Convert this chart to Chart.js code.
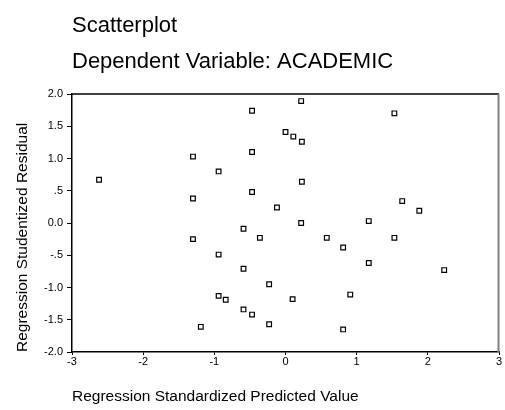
<!DOCTYPE html>
<html>
<head>
<meta charset="utf-8">
<script src="https://cdn.jsdelivr.net/npm/chart.js@4.4.1/dist/chart.umd.min.js"></script>
<style>
  html, body { margin: 0; padding: 0; background: #fff; }
</style>
</head>
<body>
<canvas id="chart" width="505" height="410"></canvas>
<script>
// Chart text
const titleLines = ["Scatterplot", "Dependent Variable: ACADEMIC"];
const xTitle = "Regression Standardized Predicted Value";
const yTitle = "Regression Studentized Residual";

// Tick labels (SPSS style)
const xTickLabels = ["-3", "-2", "-1", "0", "1", "2", "3"];
const yTickLabels = ["-2.0", "-1.5", "-1.0", "-.5", "0.0", ".5", "1.0", "1.5", "2.0"];

// Cases: standardized predicted value / studentized residual
const predicted = [-2.62, -1.30, -1.30, -1.30, -0.94, -0.94, -0.94, -0.84, -1.19, -0.47,
  -0.47, -0.47, -0.59, -0.59, -0.36, -0.59, -0.47, -0.23, -0.23, -0.12,
  0.00, 0.11, 0.22, 0.23, 0.23, 0.22, 0.10, 0.58, 0.81, 0.81,
  0.91, 1.17, 1.17, 1.53, 1.53, 1.64, 1.88, 2.23];
const residual = [0.67, 1.03, 0.38, -0.25, 0.80, -0.49, -1.13, -1.19, -1.61, 1.74,
  1.10, 0.48, -0.09, -0.71, -0.23, -1.34, -1.42, -0.95, -1.57, 0.24,
  1.41, 1.34, 1.89, 1.26, 0.64, 0.00, -1.18, -0.23, -0.38, -1.65,
  -1.11, 0.03, -0.62, 1.70, -0.23, 0.34, 0.19, -0.73];

const FONT = "'Liberation Sans', Arial, Helvetica, sans-serif";

// Titles above the plot + top/right frame lines
const framePlugin = {
  id: "frame",
  afterDraw(chart) {
    const { ctx, chartArea: a } = chart;
    ctx.save();
    ctx.fillStyle = "#000";
    ctx.font = "22px " + FONT;
    ctx.textBaseline = "alphabetic";
    ctx.fillText(titleLines[0], a.left, 32);
    ctx.fillText(titleLines[1], a.left, 68);

    ctx.strokeStyle = "#000";
    ctx.lineWidth = 1.5;
    ctx.beginPath();
    ctx.moveTo(a.left, a.top);
    ctx.lineTo(a.right, a.top);
    ctx.stroke();
    ctx.strokeStyle = "#808080";
    ctx.lineWidth = 2;
    ctx.beginPath();
    ctx.moveTo(a.right - 0.5, a.top);
    ctx.lineTo(a.right - 0.5, a.bottom);
    ctx.stroke();
    ctx.restore();
  }
};

new Chart(document.getElementById("chart"), {
  type: "scatter",
  data: {
    datasets: [{
      data: predicted.map((x, i) => ({ x: x, y: residual[i] })),
      pointStyle: "rect",
      pointRadius: 3.3,
      pointHoverRadius: 3.3,
      backgroundColor: "#fff",
      borderColor: "#000",
      borderWidth: 1.2
    }]
  },
  options: {
    responsive: false,
    animation: false,
    events: [],
    layout: { padding: { top: 94, right: 6, left: 0, bottom: 0 } },
    plugins: {
      legend: { display: false },
      tooltip: { enabled: false }
    },
    scales: {
      x: {
        type: "linear",
        min: -3,
        max: 3,
        afterFit: s => { s.height = 58; },
        border: { color: "#000", width: 1.5 },
        grid: { drawOnChartArea: false, drawTicks: true, tickLength: 3, tickColor: "#000", tickWidth: 1 },
        ticks: {
          stepSize: 1,
          padding: 0,
          color: "#000",
          maxRotation: 0,
          font: { family: FONT, size: 11 },
          callback: (v, i) => xTickLabels[i]
        },
        title: {
          display: true,
          text: xTitle,
          align: "start",
          color: "#000",
          padding: { top: 4, bottom: 4 },
          font: { family: FONT, size: 15.5 }
        }
      },
      y: {
        type: "linear",
        min: -2,
        max: 2,
        afterFit: s => { s.width = 72; },
        border: { color: "#000", width: 1.5 },
        grid: { drawOnChartArea: false, drawTicks: true, tickLength: 5, tickColor: "#000", tickWidth: 1 },
        ticks: {
          stepSize: 0.5,
          padding: 4,
          color: "#000",
          font: { family: FONT, size: 11 },
          callback: (v, i) => yTickLabels[i]
        },
        title: {
          display: true,
          text: yTitle,
          align: "start",
          color: "#000",
          padding: { top: 13, bottom: 13 },
          font: { family: FONT, size: 15.5 }
        }
      }
    }
  },
  plugins: [framePlugin]
});
</script>
</body>
</html>
